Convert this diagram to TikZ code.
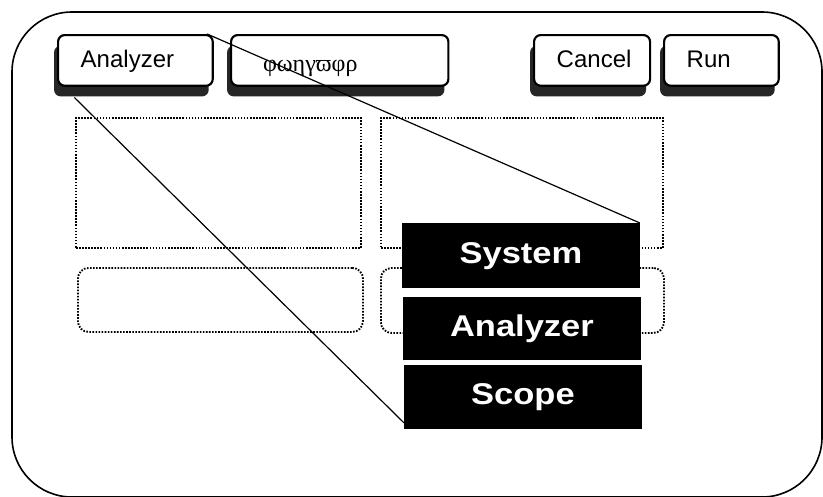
\documentclass[tikz,border=0pt]{standalone}
\usepackage{fontspec}
\setmainfont{Liberation Sans}
\newfontfamily\greekfont{Liberation Serif}
\newfontfamily\boxfont{Liberation Sans}[FakeStretch=1.15]
\usetikzlibrary{shadows}

\tikzset{
  frame/.style={draw=black, line width=1.2pt, rounded corners=45pt},
  button/.style={draw=black, line width=1.6pt, fill=white, rounded corners=5pt,
    anchor=north west, minimum height=38pt, inner ysep=0pt, inner xsep=17pt,
    text height=13pt, text depth=3pt,
    align=left, font=\fontsize{18}{21}\selectfont,
    drop shadow={shadow xshift=-3pt, shadow yshift=-8pt, fill=black!85, opacity=1}},
  panel/.style={draw=black, line width=1.4pt, dash pattern=on 1.2pt off 1.1pt,
    anchor=north west, inner sep=0pt},
  label box/.style={fill=black, text=white, anchor=north west, inner sep=0pt,
    minimum width=178pt, font=\boxfont\bfseries\fontsize{22.5}{26}\selectfont},
  callout/.style={draw=black, line width=0.9pt},
}

\begin{document}
\begin{tikzpicture}[x=0.75pt, y=-0.75pt]
  \path[use as bounding box, clip] (0,0) rectangle (823,496);
  \fill[white] (0,0) rectangle (823,496);

  % outer window frame
  \draw[frame] (12,12) rectangle (822,497);

  % empty panels
  \node[panel, minimum width=213.75pt, minimum height=97.5pt] (p1) at (75,117) {};
  \node[panel, minimum width=211.5pt, minimum height=97.5pt] (p2) at (380,117) {};
  \node[panel, rounded corners=8pt, minimum width=213.75pt, minimum height=48pt] (p3) at (77,267) {};
  \node[panel, rounded corners=8pt, minimum width=212.25pt, minimum height=48.75pt] (p4) at (380,267) {};

  % buttons
  \node[button, text width=82pt] (analyzer) at (57,34) {Analyzer};
  \node[button, inner xsep=24pt, text width=115pt] (greek) at (230,34)
    {\raisebox{-3pt}[13pt][3pt]{\greekfont\fontsize{18}{21}\selectfont φωηγϖφρ}};
  \node[button, text width=53pt] (cancel) at (533,34) {Cancel};
  \node[button, text width=52pt] (run) at (663,34) {Run};

  % zoomed menu
  \node[label box, minimum height=48.75pt] (system) at (402,223) {System};
  \node[label box, minimum height=47.25pt] (analyzer menu) at (403,297) {Analyzer};
  \node[label box, minimum height=48pt] (scope) at (404,365) {Scope};

  % callout lines from the button to the menu
  \coordinate (a top) at ([xshift=-5pt]analyzer.north east);
  \coordinate (a bottom) at ([xshift=13pt, yshift=-8pt]analyzer.south west);
  \draw[callout] (a top) -- (system.north east);
  \draw[callout] (a bottom) -- ([yshift=5pt]scope.south west);
\end{tikzpicture}
\end{document}
